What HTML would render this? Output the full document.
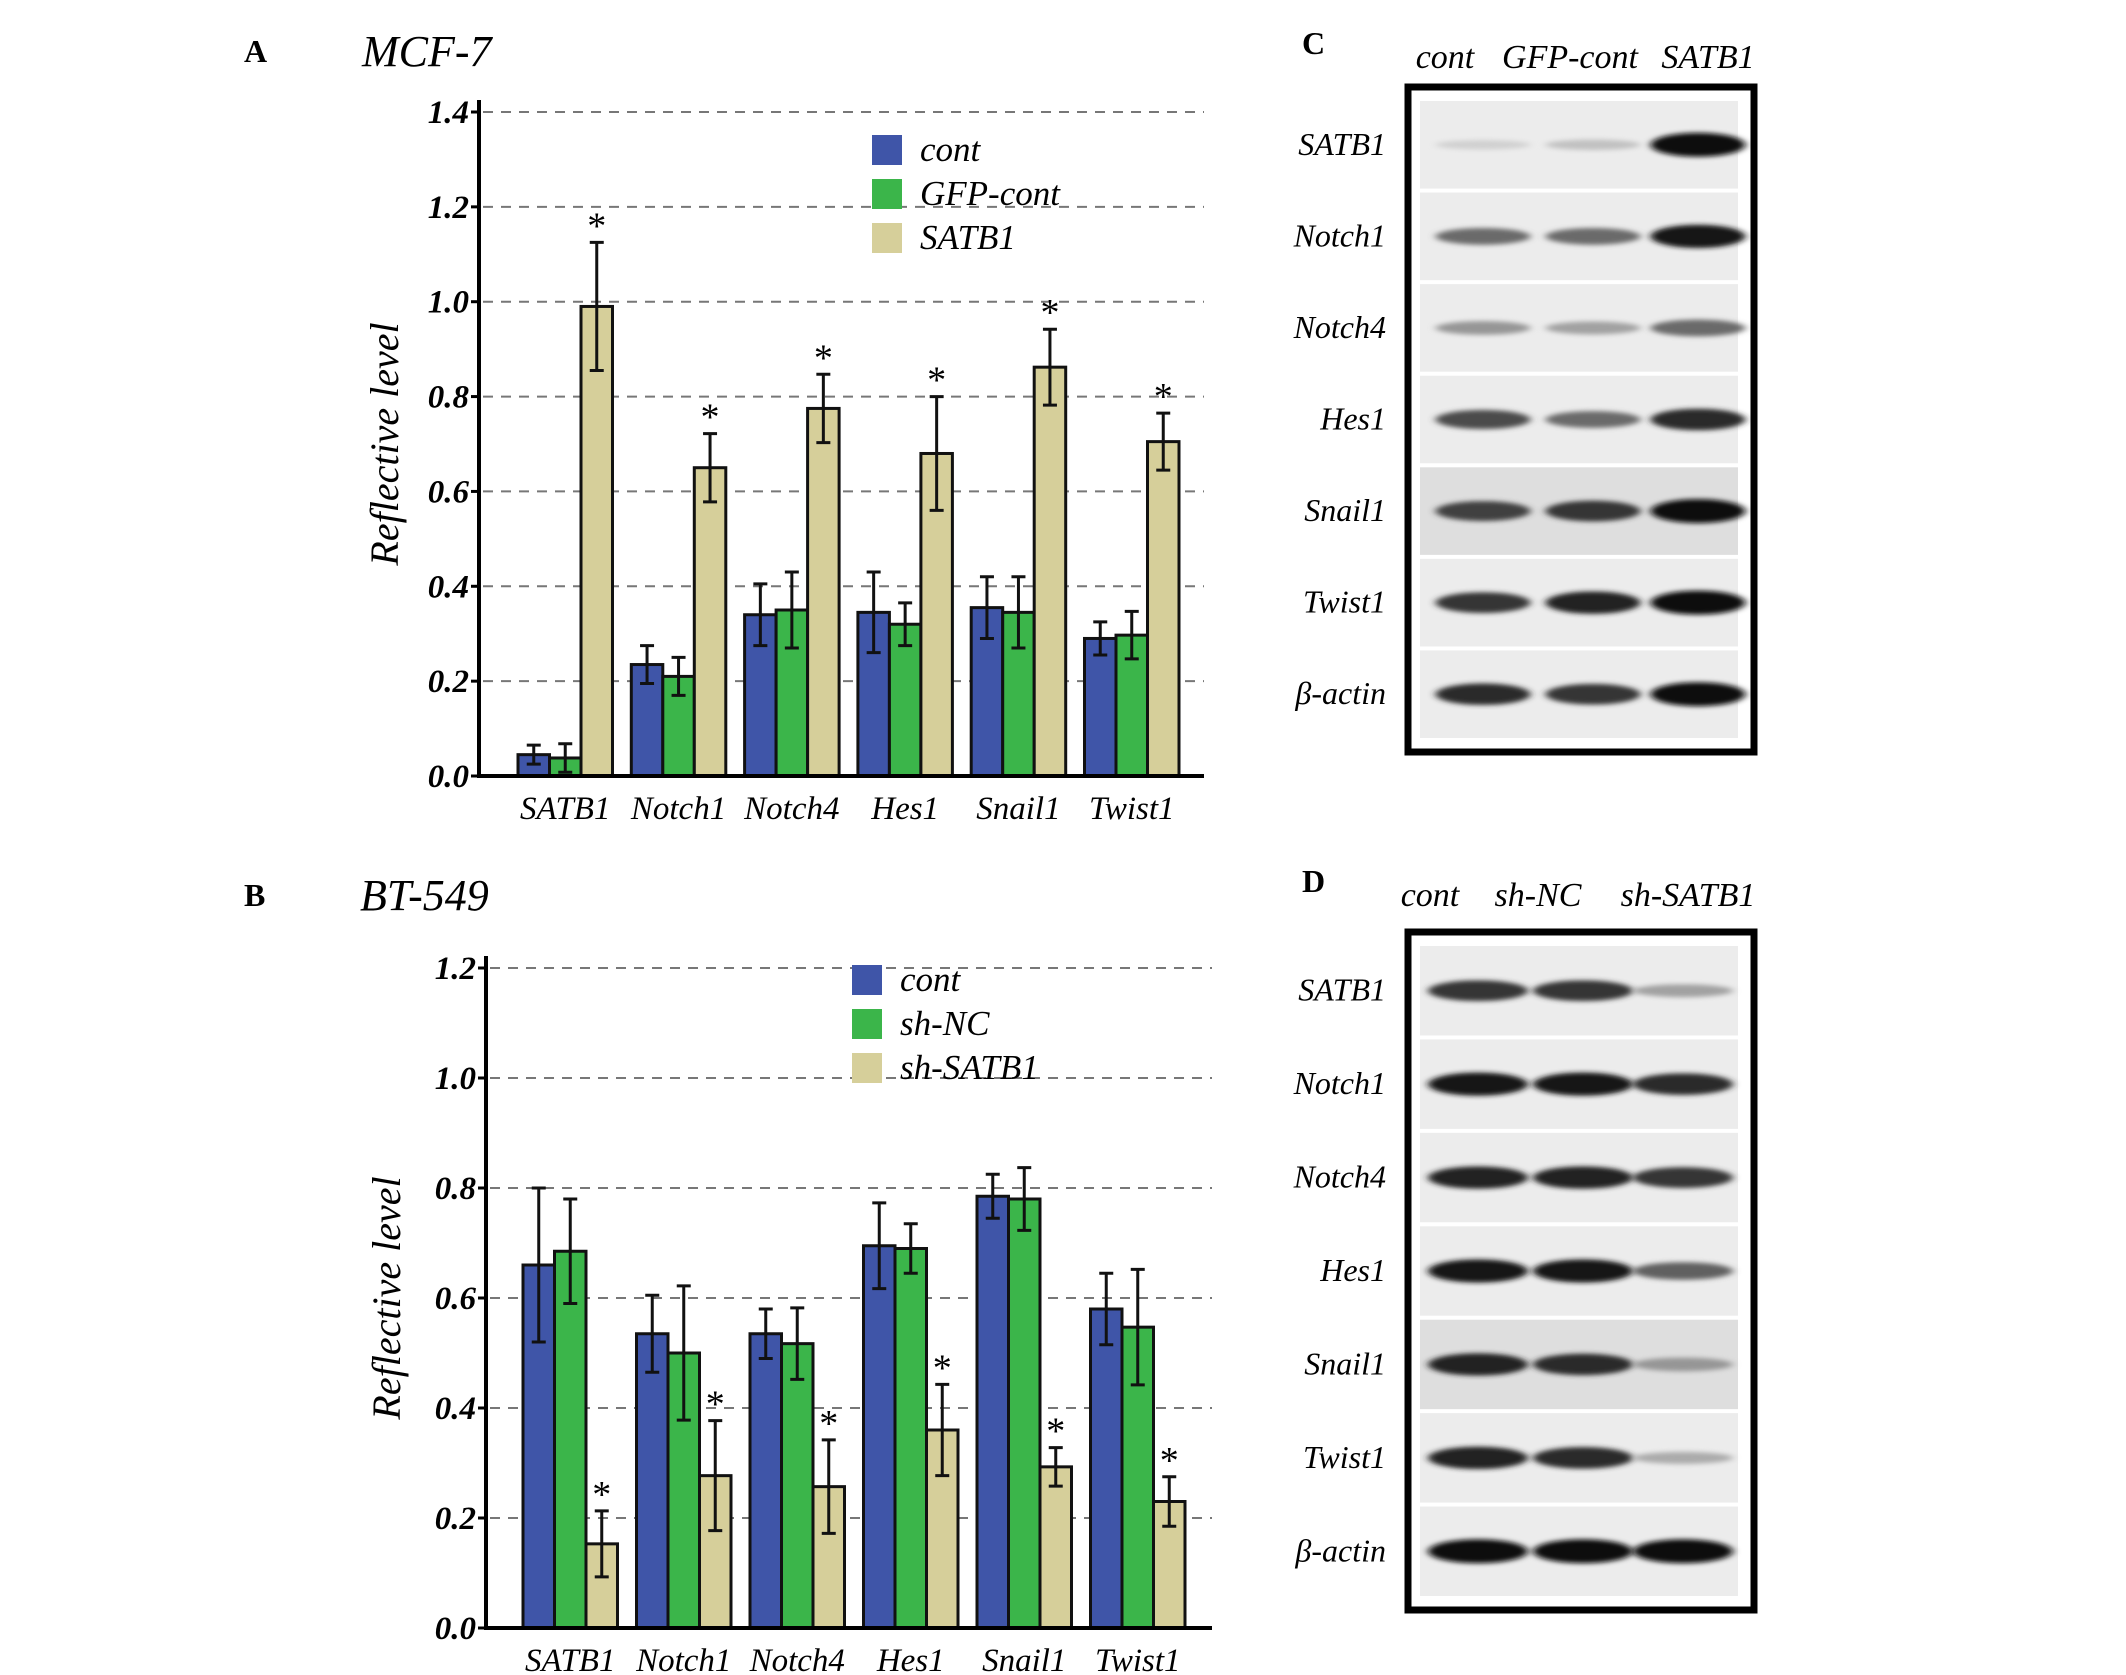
<!DOCTYPE html>
<html><head><meta charset="utf-8"><style>
html,body{margin:0;padding:0;background:#fff}
svg{display:block}
text{font-family:"Liberation Serif",serif}
</style></head><body>
<svg id="fig" width="2126" height="1675" viewBox="0 0 2126 1675" xmlns="http://www.w3.org/2000/svg">
<defs>
<filter id="blur" x="-20%" y="-100%" width="140%" height="300%"><feGaussianBlur stdDeviation="4 2.5"/></filter>
</defs>
<g id="chartA"></g>
<g id="chartB"></g>
<g id="blotC"></g>
<g id="blotD"></g>
</svg>
<script>
const categories=["SATB1","Notch1","Notch4","Hes1","Snail1","Twist1"];
const aSeriesNames=["cont","GFP-cont","SATB1"];
const aCont=[0.045,0.235,0.34,0.345,0.355,0.29];
const aContErr=[0.02,0.04,0.065,0.085,0.065,0.035];
const aGfp=[0.038,0.21,0.35,0.32,0.345,0.297];
const aGfpErr=[0.03,0.04,0.08,0.045,0.075,0.05];
const aSatb=[0.99,0.65,0.775,0.68,0.862,0.705];
const aSatbErr=[0.135,0.072,0.072,0.12,0.08,0.06];
const aTicks=["0.0","0.2","0.4","0.6","0.8","1.0","1.2","1.4"];
const bSeriesNames=["cont","sh-NC","sh-SATB1"];
const bCont=[0.66,0.535,0.535,0.695,0.785,0.58];
const bContErr=[0.14,0.07,0.045,0.078,0.04,0.065];
const bNc=[0.685,0.50,0.517,0.69,0.78,0.547];
const bNcErr=[0.095,0.122,0.065,0.045,0.057,0.105];
const bSh=[0.153,0.277,0.257,0.36,0.293,0.23];
const bShErr=[0.06,0.1,0.085,0.083,0.035,0.045];
const bTicks=["0.0","0.2","0.4","0.6","0.8","1.0","1.2"];
const blotRows=["SATB1","Notch1","Notch4","Hes1","Snail1","Twist1","β-actin"];
const cLanes=["cont","GFP-cont","SATB1"];
const cIntensity=[[0.08,0.15,1],[0.55,0.55,0.95],[0.35,0.3,0.55],[0.7,0.55,0.85],[0.75,0.8,1],[0.8,0.9,1],[0.85,0.8,1]];
const dLanes=["cont","sh-NC","sh-SATB1"];
const dIntensity=[[0.8,0.8,0.3],[0.95,0.95,0.85],[0.9,0.9,0.8],[0.95,0.95,0.6],[0.9,0.85,0.35],[0.9,0.85,0.25],[1,1,1]];
const colors=["#3f55a8","#3bb54a","#d6cf9a"];
const NS="http://www.w3.org/2000/svg";
function mk(parent,tag,attrs,txt){const e=document.createElementNS(NS,tag);for(const k in attrs)e.setAttribute(k,attrs[k]);if(txt!==undefined)e.textContent=txt;parent.appendChild(e);return e;}

function drawChart(g,o){
  const yScale=v=>o.y0-(v/o.ymax)*(o.y0-o.ytop);
  const letter=mk(g,'text',{x:o.letterX,y:o.titleY,'font-size':32,'font-weight':'bold'},o.letter);
  
  
  const title=mk(g,'text',{x:o.titleX,y:o.titleY+4,'font-size':44,'font-style':'italic'},o.title);
  
  
  o.ticks.forEach((t,i)=>{
    const v=parseFloat(t);const y=yScale(v);
    if(v>0){const gl=mk(g,'line',{x1:o.ax+4,x2:o.right,y1:y,y2:y,stroke:'#777','stroke-width':2,'stroke-dasharray':'10 8'});
      
      }
    mk(g,'line',{x1:o.ax-8,x2:o.ax,y1:y,y2:y,stroke:'#000','stroke-width':3});
    const tl=mk(g,'text',{x:o.ax-10,y:y+11,'font-size':33,'font-weight':'bold','font-style':'italic','text-anchor':'end'},t);
    
    
  });
  const yt=mk(g,'text',{x:0,y:0,'font-size':40,'font-style':'italic','text-anchor':'middle',transform:`translate(${o.ytitleX},${(o.y0+o.ytop)/2}) rotate(-90)`},'Reflective level');
  
  
  const series=[o.s0,o.s1,o.s2], errs=[o.e0,o.e1,o.e2];
  categories.forEach((c,ci)=>{
    const gx=o.firstX+ci*o.spacing;
    for(let s=0;s<3;s++){
      const x=gx+s*o.bw, v=series[s][ci], y=yScale(v);
      const r=mk(g,'rect',{x:x,y:y,width:o.bw,height:o.y0-y,fill:colors[s],stroke:'#111','stroke-width':3});
      
      
      const cx=x+o.bw/2, yh=yScale(v+errs[s][ci]), yl=yScale(Math.max(0,v-errs[s][ci]));
      const eb=mk(g,'path',{d:`M${cx},${yh}V${yl}M${cx-7},${yh}H${cx+7}M${cx-7},${yl}H${cx+7}`,stroke:'#111','stroke-width':3,fill:'none'});
      
      
      if(s===o.starSeries){
        const st=mk(g,'text',{x:cx,y:yh-4,'font-size':38,'text-anchor':'middle'},'*');
        
        
      }
    }
    const cl=mk(g,'text',{x:gx+1.5*o.bw,y:o.y0+43,'font-size':33,'font-style':'italic','text-anchor':'middle'},c);
    
    
  });
  mk(g,'line',{x1:o.ax,x2:o.ax,y1:o.ytop-12,y2:o.y0+2,stroke:'#000','stroke-width':4});
  mk(g,'line',{x1:o.ax,x2:o.right,y1:o.y0,y2:o.y0,stroke:'#000','stroke-width':4});
  o.names.forEach((n,i)=>{
    const y=o.legY+i*o.legDy;
    const sw=mk(g,'rect',{x:o.legX,y:y-15,width:30,height:30,fill:colors[i]});
    
    
    const lt=mk(g,'text',{x:o.legX+48,y:y+11,'font-size':35,'font-style':'italic'},n);
    
    
  });
}
drawChart(document.getElementById('chartA'),{letter:'A',letterX:244,title:'MCF-7',titleX:362,titleY:62,
  ax:479,right:1204,y0:776,ytop:112,ymax:1.4,ticks:aTicks,ytitleX:398,
  firstX:518,spacing:113.3,bw:31.5,s0:aCont,s1:aGfp,s2:aSatb,e0:aContErr,e1:aGfpErr,e2:aSatbErr,
  names:aSeriesNames,starSeries:2,legX:872,legY:150,legDy:44});
drawChart(document.getElementById('chartB'),{letter:'B',letterX:244,title:'BT-549',titleX:360,titleY:906,
  ax:486,right:1212,y0:1628,ytop:968,ymax:1.2,ticks:bTicks,ytitleX:400,
  firstX:523,spacing:113.5,bw:31.5,s0:bCont,s1:bNc,s2:bSh,e0:bContErr,e1:bNcErr,e2:bShErr,
  names:bSeriesNames,starSeries:2,legX:852,legY:980,legDy:44});

function drawBlot(g,o){
  const L=mk(g,'text',{x:o.letterX,y:o.labelY-4,'font-size':32,'font-weight':'bold'},o.letter);
  
  
  o.lanes.forEach((l,i)=>{
    const t=mk(g,'text',{x:o.laneX[i],y:o.labelY+10,'font-size':34,'font-style':'italic','text-anchor':'middle'},l);
    
    
  });
  const rh=(o.boxB-o.boxT-24)/blotRows.length;
  blotRows.forEach((r,ri)=>{
    const y=o.boxT+12+ri*rh;
    const bg=mk(g,'rect',{x:o.boxL+12,y:y+2,width:o.boxR-o.boxL-28,height:rh-4,fill:ri===4?'#dedede':'#ececec'});
    
    
    const t=mk(g,'text',{x:o.boxL-22,y:y+rh/2+10,'font-size':32,'font-style':'italic','text-anchor':'end'},r);
    
    
    o.inten[ri].forEach((v,li)=>{
      const gray=Math.round(225-215*v);
      const e=mk(g,'ellipse',{cx:o.bandX[li],cy:y+rh/2,rx:o.bandW/2,ry:4+8*v,fill:`rgb(${gray},${gray},${gray})`,filter:'url(#blur)'});
      
      
    });
  });
  const bx=mk(g,'rect',{x:o.boxL,y:o.boxT,width:o.boxR-o.boxL,height:o.boxB-o.boxT,fill:'none',stroke:'#000','stroke-width':7});
  
  
}
drawBlot(document.getElementById('blotC'),{letter:'C',letterX:1302,labelY:58,lanes:cLanes,laneX:[1445,1570,1708],
  boxL:1408,boxR:1754,boxT:87,boxB:752,bandX:[1483,1593,1698],bandW:95,inten:cIntensity});
drawBlot(document.getElementById('blotD'),{letter:'D',letterX:1302,labelY:896,lanes:dLanes,laneX:[1430,1538,1688],
  boxL:1408,boxR:1754,boxT:932,boxB:1610,bandX:[1478,1583,1683],bandW:100,inten:dIntensity});
</script>
</body></html>
